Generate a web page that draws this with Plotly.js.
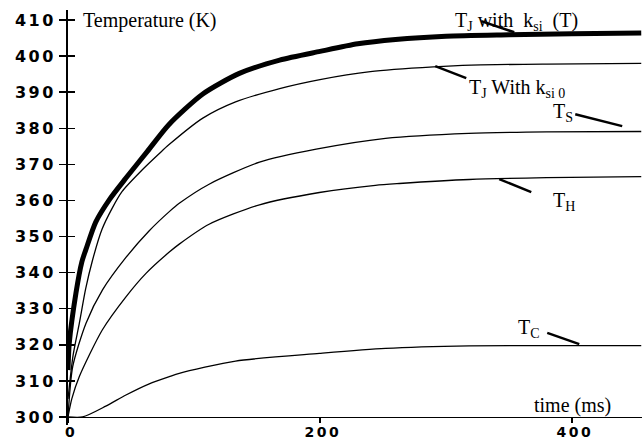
<!DOCTYPE html>
<html>
<head>
<meta charset="utf-8">
<script src="https://cdn.plot.ly/plotly-3.0.1.min.js"></script>
<style>
html,body{margin:0;padding:0;background:#fff;}
#chart{width:642px;height:441px;}
.ytick text, .xtick text { letter-spacing: 2.5px; }
</style>
</head>
<body>
<div id="chart"></div>
<script>
// Time axis (ms) and temperatures (K)
const tJkT = [0, 1, 6.3, 11, 14.3, 22, 33, 46, 63, 80, 107, 136, 168, 200, 230, 260, 300, 350, 400, 455];
const vJkT = [313, 320.4, 334.3, 343, 346.5, 354, 360.3, 366.2, 373.6, 381, 389.5, 395.2, 398.9, 401.3, 403.4, 404.6, 405.5, 405.9, 406.2, 406.4];

const tJk0 = [0, 4, 9, 14, 19.5, 27, 35, 43, 59, 72.5, 80, 107, 133, 168, 200, 240, 290, 320, 380, 455];
const vJk0 = [305, 317, 326, 335.5, 343.5, 352, 357.8, 362.5, 368.5, 373, 375.4, 382.8, 387.3, 391, 393.5, 395.7, 397, 397.5, 397.8, 398];

const tS = [0, 3.7, 14.3, 27.4, 46, 64.5, 80.4, 88.3, 112, 152, 197, 252, 318, 380, 455];
const vS = [300, 313.9, 326, 335.2, 344.2, 351.6, 356.9, 359.2, 364.5, 370.6, 374.2, 377.2, 378.6, 379, 379.1];

const tH = [0, 3, 9, 27.2, 46, 61.9, 80.4, 88.3, 112, 152, 199.5, 244, 263, 318.5, 380, 455];
const vH = [300, 305, 311.2, 324.1, 333.3, 339.8, 345.7, 347.9, 353.4, 358.8, 362.2, 364.2, 364.7, 365.8, 366.3, 366.6];

const tC = [0, 11.6, 30, 46, 64.5, 80.4, 88.3, 133, 199.5, 252, 318.5, 400, 455];
const vC = [300, 300, 303, 306.1, 309.2, 311.2, 312.1, 315.5, 317.6, 319, 319.7, 319.8, 319.8];

const yTicks = [300, 310, 320, 330, 340, 350, 360, 370, 380, 390, 400, 410];
const xTicks = [0, 200, 400];

function curve(t, v, w) {
  return {x: t, y: v, type: 'scatter', mode: 'lines',
    line: {color: '#000', width: w, shape: 'spline', smoothing: 0.7},
    hoverinfo: 'skip', showlegend: false};
}

const traces = [
  curve(tC, vC, 1.3),
  curve(tH, vH, 1.3),
  curve(tS, vS, 1.3),
  curve(tJk0, vJk0, 1.3),
  curve(tJkT, vJkT, 5),
  // overlay axis for inside tick marks
  {x: [], y: [], xaxis: 'x', yaxis: 'y2', type: 'scatter', showlegend: false}
];

const serif = {family: 'Liberation Serif, Times New Roman, serif', size: 20, color: '#000'};
function lbl(text, x, y) {
  return {text: text, x: x, y: y, xref: 'x', yref: 'y', xanchor: 'left', yanchor: 'middle',
    showarrow: false, font: serif};
}
function ptr(x0, y0, x1, y1) {
  return {type: 'line', xref: 'x', yref: 'y', x0: x0, y0: y0, x1: x1, y1: y1,
    line: {color: '#000', width: 2.5}};
}

const layout = {
  width: 642, height: 441,
  margin: {l: 68, r: 0, t: 10, b: 16},
  paper_bgcolor: '#fff', plot_bgcolor: '#fff',
  xaxis: {
    range: [0, 455.6], anchor: 'free', position: 0.0193,
    showgrid: false, zeroline: false, showline: true, linecolor: '#000', linewidth: 1.5,
    tickvals: xTicks, ticktext: xTicks.map(String), ticks: 'outside', ticklen: 5, tickwidth: 2, tickcolor: '#000',
    ticklabelstandoff: -3, ticklabelshift: 3,
    tickfont: {family: 'DejaVu Sans', size: 14, weight: 'bold', color: '#000'}
  },
  yaxis: {
    range: [297.78, 412.77],
    showgrid: false, zeroline: false, showline: true, linecolor: '#000', linewidth: 2,
    tickvals: yTicks, ticktext: yTicks.map(String), ticks: 'outside', ticklen: 7, tickwidth: 1.5, tickcolor: '#000',
    tickfont: {family: 'DejaVu Sans', size: 16, weight: 'bold', color: '#000'}
  },
  yaxis2: {
    overlaying: 'y', matches: 'y', range: [297.78, 412.77], side: 'left',
    showgrid: false, zeroline: false, showline: false,
    tickvals: yTicks.slice(1), ticks: 'inside', ticklen: 7, tickwidth: 1.5, tickcolor: '#000',
    showticklabels: false
  },
  annotations: [
    lbl('Temperature (K)', 10.6, 410),
    lbl('time (ms)', 368.5, 303.2),
    lbl('T<sub>J</sub> with&nbsp;&nbsp;k<sub>si</sub>&nbsp;&nbsp;(T)', 305.4, 409.5),
    lbl('T<sub>J</sub> With k<sub>si 0</sub>', 317, 391),
    lbl('T<sub>S</sub>', 383.6, 384.3),
    lbl('T<sub>H</sub>', 383.6, 359.6),
    lbl('T<sub>C</sub>', 355.8, 324.5)
  ],
  shapes: [
    ptr(328, 409.7, 354.2, 406.6),
    ptr(291.5, 397.2, 316.1, 393.9),
    ptr(402.6, 383.9, 439.9, 380.6),
    ptr(342.3, 365.9, 367.7, 362.3),
    ptr(380.4, 323.3, 405.8, 320.2)
  ]
};

Plotly.newPlot('chart', traces, layout, {staticPlot: true, displayModeBar: false});
</script>
</body>
</html>
